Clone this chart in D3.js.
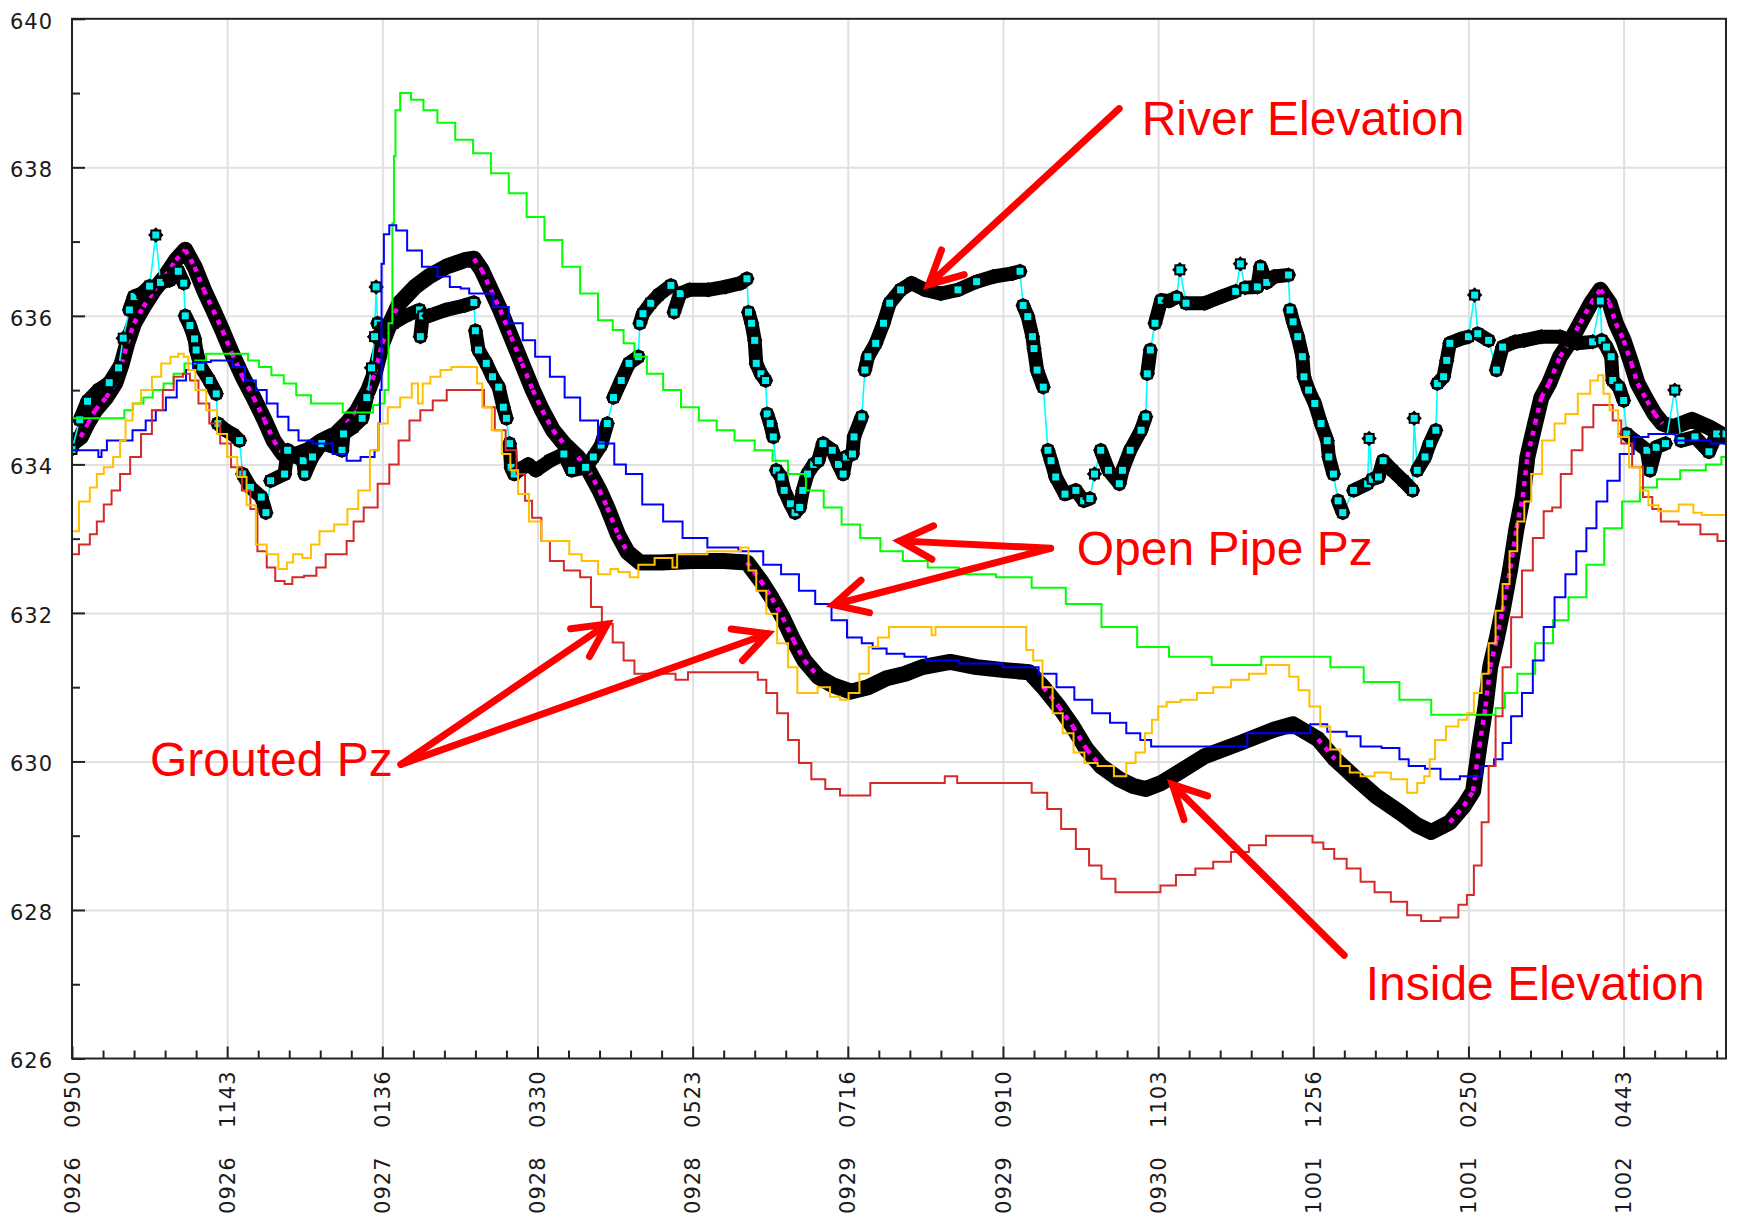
<!DOCTYPE html>
<html>
<head>
<meta charset="utf-8">
<script src="https://d3js.org/d3.v7.min.js"></script>
<style>
  body { margin: 0; background: #fff; }
  svg { display: block; }
  .tick text { font-family: "DejaVu Sans", sans-serif; font-size: 21px; letter-spacing: 1px; fill: #1a1a1a; }
  .xlab { font-family: "DejaVu Sans", sans-serif; font-size: 21px; letter-spacing: 1px; fill: #1a1a1a; }
  .note { font-family: "Liberation Sans", Arial, sans-serif; font-size: 48px; fill: #ff0000; }
</style>
</head>
<body>
<svg id="chart" width="1738" height="1219"></svg>
<script>
// time axis: t counts report intervals of 13 h 53 min, starting 0950 on 09/26
var timeLabels = ["0950", "1143", "0136", "0330", "0523", "0716", "0910", "1103", "1256", "0250", "0443"];
var dateLabels = ["0926", "0926", "0927", "0928", "0928", "0929", "0929", "0930", "1001", "1001", "1002"];
var yMajor = [626, 628, 630, 632, 634, 636, 638, 640];
var yMinor = [627, 629, 631, 633, 635, 637, 639];

// open pipe piezometers [t, elevation]
var openPipeGreen = [[0,634.62],[0.33,634.62],[0.345,634.73],[0.44,634.82],[0.48,634.9],[0.56,635.0],[0.62,635.09],[0.69,635.22],[0.76,635.36],[0.83,635.4],[0.9,635.49],[1.1,635.49],[1.17,635.4],[1.24,635.31],[1.33,635.2],[1.4,635.09],[1.49,634.93],[1.59,634.82],[1.74,634.82],[1.75,634.7],[1.93,634.7],[1.95,634.8],[2.01,634.82],[2.02,635.0],[2.06,635.9],[2.07,637.25],[2.08,638.15],[2.09,638.77],[2.14,639.0],[2.23,638.91],[2.3,638.77],[2.41,638.6],[2.53,638.37],[2.64,638.19],[2.76,637.92],[2.87,637.65],[2.99,637.33],[3.1,637.02],[3.22,636.66],[3.33,636.3],[3.45,635.94],[3.52,635.81],[3.59,635.63],[3.66,635.45],[3.75,635.22],[3.87,635.0],[3.98,634.77],[4.1,634.59],[4.21,634.46],[4.33,634.32],[4.47,634.19],[4.56,634.05],[4.67,633.87],[4.79,633.65],[4.9,633.42],[5.02,633.19],[5.14,633.01],[5.28,632.83],[5.43,632.7],[5.6,632.61],[5.83,632.52],[6.08,632.48],[6.29,632.34],[6.52,632.12],[6.75,631.81],[6.98,631.54],[7.16,631.41],[7.53,631.3],[7.8,631.41],[8.01,631.41],[8.21,631.27],[8.44,631.07],[8.67,630.83],[8.85,630.63],[9.15,630.63],[9.2,630.72],[9.27,630.92],[9.36,631.18],[9.5,631.59],[9.59,631.9],[9.7,632.21],[9.82,632.65],[9.93,633.14],[10.05,633.5],[10.16,633.69],[10.27,633.8],[10.46,633.92],[10.6,634.0],[10.66,634.1]];

var openPipeBlue = [[0,634.19],[0.16,634.19],[0.18,634.1],[0.2,634.19],[0.25,634.32],[0.34,634.32],[0.44,634.46],[0.51,634.59],[0.57,634.73],[0.64,634.9],[0.71,635.13],[0.76,635.27],[0.8,635.38],[0.99,635.4],[1.08,635.31],[1.15,635.13],[1.22,635.0],[1.29,634.82],[1.36,634.64],[1.43,634.46],[1.49,634.32],[1.61,634.28],[1.75,634.14],[1.79,634.05],[1.93,634.1],[1.97,634.19],[1.98,634.55],[1.99,635.0],[2.0,636.7],[2.02,637.1],[2.07,637.22],[2.11,637.15],[2.21,636.88],[2.3,636.66],[2.41,636.53],[2.46,636.39],[2.55,636.37],[2.57,636.3],[2.67,636.3],[2.76,636.12],[2.87,635.9],[2.94,635.67],[3.03,635.45],[3.13,635.18],[3.22,634.9],[3.33,634.59],[3.45,634.28],[3.54,634.0],[3.6,633.87],[3.75,633.46],[3.87,633.23],[4.0,633.01],[4.19,632.88],[4.4,632.83],[4.51,632.65],[4.63,632.52],[4.74,632.3],[4.84,632.12],[4.95,631.9],[5.04,631.67],[5.14,631.59],[5.18,631.52],[5.32,631.45],[5.41,631.41],[5.6,631.36],[5.83,631.32],[6.17,631.27],[6.29,631.18],[6.4,631.0],[6.52,630.83],[6.63,630.65],[6.75,630.52],[6.84,630.38],[6.93,630.29],[6.98,630.2],[7.2,630.2],[7.55,630.2],[7.6,630.38],[7.95,630.38],[8.01,630.5],[8.17,630.4],[8.26,630.34],[8.35,630.2],[8.53,630.18],[8.58,630.03],[8.65,629.94],[8.79,629.9],[8.85,629.76],[9.04,629.8],[9.13,629.94],[9.2,630.03],[9.24,630.25],[9.31,630.61],[9.38,630.92],[9.45,631.36],[9.52,631.81],[9.59,632.21],[9.66,632.52],[9.73,632.83],[9.79,633.14],[9.86,633.5],[9.93,633.78],[10.02,634.14],[10.11,634.37],[10.21,634.41],[10.46,634.32],[10.66,634.28]];

// grouted piezometers [t, elevation]
var groutedYellow = [[0,633.1],[0.09,633.5],[0.14,633.69],[0.18,633.87],[0.23,633.96],[0.3,634.1],[0.32,634.32],[0.37,634.59],[0.41,634.82],[0.48,635.0],[0.55,635.18],[0.6,635.36],[0.67,635.45],[0.7,635.49],[0.74,635.45],[0.76,635.27],[0.83,635.0],[0.9,634.73],[0.97,634.41],[1.03,634.1],[1.1,633.83],[1.15,633.45],[1.22,632.92],[1.29,632.79],[1.37,632.59],[1.4,632.68],[1.45,632.79],[1.52,632.74],[1.56,632.92],[1.63,633.1],[1.75,633.19],[1.8,633.4],[1.89,633.65],[1.95,634.19],[2.0,634.55],[2.07,634.77],[2.16,634.9],[2.22,635.09],[2.24,634.82],[2.28,635.09],[2.34,635.18],[2.41,635.27],[2.48,635.31],[2.6,635.31],[2.62,635.09],[2.67,634.77],[2.74,634.46],[2.8,634.14],[2.85,633.92],[2.9,633.6],[2.99,633.23],[3.06,632.97],[3.17,632.97],[3.24,632.79],[3.33,632.7],[3.45,632.52],[3.49,632.59],[3.55,632.55],[3.64,632.48],[3.66,632.65],[3.85,632.74],[3.89,632.61],[3.91,632.79],[4.28,632.83],[4.34,632.88],[4.38,632.57],[4.44,632.3],[4.51,631.99],[4.58,631.59],[4.65,631.27],[4.7,630.92],[4.77,630.92],[4.84,631.0],[4.93,630.87],[4.97,630.83],[5.04,630.92],[5.11,631.18],[5.16,631.54],[5.23,631.67],[5.3,631.81],[5.53,631.81],[5.55,631.7],[5.58,631.81],[6.13,631.81],[6.17,631.5],[6.22,631.36],[6.29,631.0],[6.35,630.65],[6.42,630.38],[6.49,630.12],[6.56,629.98],[6.66,629.94],[6.77,629.8],[6.82,629.98],[6.89,630.12],[6.94,630.38],[6.98,630.56],[7.02,630.74],[7.09,630.8],[7.2,630.83],[7.3,630.92],[7.41,631.0],[7.53,631.1],[7.64,631.18],[7.75,631.3],[7.82,631.3],[7.87,631.14],[7.94,630.96],[8.01,630.74],[8.08,630.47],[8.14,630.16],[8.21,629.94],[8.26,629.85],[8.35,629.8],[8.44,629.85],[8.56,629.76],[8.65,629.58],[8.69,629.71],[8.74,629.8],[8.76,630.03],[8.81,630.29],[8.9,630.47],[8.97,630.56],[9.01,630.65],[9.06,630.92],[9.11,631.18],[9.15,631.59],[9.2,632.03],[9.24,632.39],[9.29,632.83],[9.34,633.23],[9.38,633.5],[9.43,633.87],[9.52,634.32],[9.59,634.55],[9.66,634.68],[9.75,634.95],[9.82,635.13],[9.85,635.2],[9.89,634.95],[9.93,634.73],[10.0,634.37],[10.07,633.96],[10.14,633.65],[10.18,633.45],[10.27,633.37],[10.44,633.46],[10.46,633.35],[10.55,633.32],[10.66,633.32]];

var groutedRed = [[0,632.79],[0.09,632.92],[0.14,633.06],[0.18,633.23],[0.23,633.46],[0.28,633.65],[0.34,633.87],[0.41,634.1],[0.48,634.41],[0.55,634.73],[0.62,635.0],[0.69,635.18],[0.74,635.22],[0.78,635.13],[0.85,634.82],[0.92,634.55],[0.99,634.28],[1.06,633.96],[1.13,633.65],[1.17,633.4],[1.22,632.83],[1.29,632.61],[1.33,632.43],[1.41,632.39],[1.43,632.48],[1.56,632.5],[1.59,632.61],[1.68,632.79],[1.75,632.79],[1.79,632.97],[1.84,633.23],[1.92,633.42],[2.02,633.74],[2.07,634.0],[2.14,634.32],[2.21,634.59],[2.28,634.73],[2.37,634.86],[2.46,635.0],[2.62,635.0],[2.69,634.77],[2.76,634.46],[2.83,634.19],[2.9,633.87],[2.94,633.51],[2.99,633.28],[3.06,632.97],[3.1,632.7],[3.24,632.57],[3.31,632.48],[3.38,632.08],[3.45,631.85],[3.52,631.6],[3.59,631.36],[3.66,631.18],[3.82,631.18],[3.96,631.1],[3.98,631.2],[4.4,631.2],[4.44,631.1],[4.51,630.92],[4.58,630.65],[4.65,630.29],[4.72,629.98],[4.81,629.76],[4.9,629.63],[5.0,629.54],[5.11,629.54],[5.18,629.71],[5.62,629.71],[5.63,629.8],[5.69,629.8],[5.72,629.71],[6.13,629.71],[6.24,629.58],[6.33,629.36],[6.42,629.09],[6.52,628.82],[6.59,628.6],[6.68,628.42],[6.77,628.24],[6.98,628.24],[7.05,628.33],[7.18,628.47],[7.3,628.56],[7.41,628.65],[7.53,628.78],[7.64,628.87],[7.75,629.0],[7.96,629.0],[8.03,628.91],[8.1,628.82],[8.17,628.69],[8.26,628.56],[8.35,628.38],[8.44,628.24],[8.56,628.11],[8.65,627.93],[8.74,627.85],[8.9,627.9],[8.97,628.07],[9.01,628.2],[9.06,628.6],[9.11,629.18],[9.15,629.94],[9.2,630.61],[9.24,631.27],[9.31,631.94],[9.38,632.57],[9.45,633.01],[9.52,633.37],[9.56,633.42],[9.63,633.87],[9.7,634.19],[9.77,634.5],[9.84,634.8],[9.91,634.8],[9.95,634.59],[10.02,634.28],[10.09,633.96],[10.16,633.56],[10.21,633.4],[10.27,633.23],[10.44,633.19],[10.55,633.06],[10.66,632.97]];

// inside elevation [t, elevation]
var insideElev = [[0,634.28],[0.057,634.37],[0.1,634.55],[0.15,634.73],[0.22,634.9],[0.28,635.1],[0.32,635.35],[0.356,635.63],[0.4,635.9],[0.46,636.12],[0.53,636.35],[0.6,636.53],[0.67,636.75],[0.73,636.89],[0.79,636.66],[0.85,636.35],[0.91,636.08],[0.97,635.8],[1.03,635.5],[1.1,635.18],[1.17,634.9],[1.24,634.6],[1.3,634.32],[1.36,634.14],[1.43,634.12],[1.52,634.19],[1.61,634.32],[1.7,634.41],[1.77,634.55],[1.84,634.73],[1.91,635.0],[1.95,635.22],[2.0,635.63],[2.05,635.9],[2.11,636.17],[2.21,636.39],[2.3,636.53],[2.41,636.66],[2.53,636.75],[2.59,636.77],[2.64,636.62],[2.7,636.35],[2.76,636.08],[2.83,635.72],[2.9,635.36],[2.97,635.0],[3.03,634.73],[3.1,634.46],[3.17,634.28],[3.26,634.1],[3.33,633.92],[3.4,633.65],[3.45,633.42],[3.52,633.05],[3.58,632.82],[3.66,632.68],[3.8,632.68],[4.0,632.7],[4.2,632.7],[4.35,632.68],[4.44,632.43],[4.51,632.2],[4.58,631.94],[4.65,631.63],[4.72,631.36],[4.81,631.14],[4.9,631.03],[5.02,630.94],[5.13,631.0],[5.25,631.12],[5.37,631.18],[5.48,631.27],[5.66,631.34],[5.83,631.27],[6.01,631.23],[6.17,631.2],[6.26,631.0],[6.36,630.74],[6.45,630.47],[6.54,630.16],[6.63,629.94],[6.75,629.76],[6.84,629.67],[6.92,629.63],[7.02,629.71],[7.13,629.85],[7.3,630.07],[7.53,630.25],[7.75,630.43],[7.87,630.5],[8.03,630.3],[8.14,630.03],[8.26,629.8],[8.4,629.54],[8.56,629.31],[8.67,629.14],[8.76,629.05],[8.88,629.18],[8.97,629.4],[9.03,629.6],[9.07,630.2],[9.11,630.74],[9.14,631.27],[9.18,631.63],[9.22,632.03],[9.27,632.6],[9.31,633.14],[9.35,633.56],[9.38,634.1],[9.43,634.55],[9.47,634.9],[9.52,635.09],[9.59,635.45],[9.66,635.67],[9.72,635.9],[9.79,636.17],[9.85,636.35],[9.91,636.17],[9.95,635.9],[10.0,635.67],[10.05,635.36],[10.09,635.09],[10.15,634.86],[10.2,634.68],[10.25,634.55],[10.32,634.5],[10.44,634.6],[10.55,634.5],[10.66,634.37]];

// river elevation [t, elevation]
var riverElev = [[0,634.2],[0.05,634.6],[0.1,634.85],[0.17,635.0],[0.24,635.1],[0.3,635.3],[0.33,635.7],[0.37,636.08],[0.4,636.26],[0.45,636.3],[0.5,636.4],[0.54,637.09],[0.57,636.45],[0.63,636.48],[0.685,636.6],[0.72,636.44],[0.73,636.0],[0.76,635.87],[0.79,635.69],[0.8,635.54],[0.83,635.31],[0.885,635.13],[0.93,634.95],[0.94,634.55],[0.99,634.46],[1.04,634.4],[1.08,634.32],[1.1,633.87],[1.15,633.69],[1.22,633.56],[1.25,633.35],[1.28,633.78],[1.37,633.87],[1.39,634.19],[1.45,634.1],[1.49,634.05],[1.5,633.87],[1.55,634.1],[1.61,634.28],[1.67,634.25],[1.74,634.19],[1.75,634.41],[1.81,634.5],[1.87,634.62],[1.9,634.9],[1.93,635.3],[1.95,635.72],[1.96,636.39],[1.97,635.9],[2.0,635.85],[2.07,635.9],[2.15,636.0],[2.24,636.08],[2.245,635.72],[2.26,636.0],[2.3,636.0],[2.41,636.08],[2.53,636.14],[2.59,636.18],[2.6,635.8],[2.62,635.54],[2.67,635.36],[2.71,635.18],[2.75,635.04],[2.78,634.77],[2.8,634.62],[2.82,634.28],[2.83,633.96],[2.85,633.87],[2.9,633.95],[2.94,634.0],[2.99,633.92],[3.08,634.05],[3.17,634.14],[3.22,633.92],[3.31,633.96],[3.36,634.1],[3.41,634.26],[3.45,634.55],[3.49,634.9],[3.54,635.13],[3.59,635.36],[3.65,635.45],[3.66,635.9],[3.68,636.03],[3.73,636.17],[3.78,636.28],[3.86,636.41],[3.88,636.05],[3.92,636.3],[3.98,636.35],[4.1,636.35],[4.21,636.39],[4.31,636.44],[4.35,636.5],[4.36,636.05],[4.38,635.9],[4.4,635.67],[4.41,635.36],[4.44,635.22],[4.47,635.13],[4.48,634.68],[4.5,634.55],[4.52,634.37],[4.54,633.92],[4.57,633.83],[4.59,633.65],[4.63,633.47],[4.66,633.35],[4.69,633.42],[4.71,633.65],[4.74,633.87],[4.78,634.0],[4.81,634.05],[4.84,634.28],[4.9,634.19],[4.94,634.0],[4.97,633.87],[4.99,634.1],[5.03,634.14],[5.04,634.37],[5.09,634.64],[5.11,635.27],[5.13,635.45],[5.18,635.63],[5.23,635.9],[5.27,636.17],[5.34,636.35],[5.41,636.44],[5.5,636.35],[5.6,636.3],[5.71,636.35],[5.83,636.46],[5.94,636.53],[6.06,636.57],[6.11,636.6],[6.13,636.14],[6.16,635.99],[6.19,635.72],[6.2,635.56],[6.22,635.27],[6.26,635.04],[6.29,634.19],[6.31,634.05],[6.34,633.83],[6.4,633.6],[6.47,633.65],[6.52,633.51],[6.56,633.54],[6.59,633.87],[6.63,634.19],[6.68,633.92],[6.75,633.74],[6.77,633.92],[6.82,634.19],[6.89,634.46],[6.92,634.64],[6.93,635.22],[6.95,635.54],[6.98,635.9],[7.02,636.21],[7.07,636.2],[7.12,636.25],[7.14,636.62],[7.18,636.17],[7.3,636.17],[7.41,636.26],[7.5,636.33],[7.53,636.7],[7.56,636.38],[7.64,636.39],[7.66,636.66],[7.7,636.45],[7.75,636.53],[7.84,636.55],[7.85,636.08],[7.87,635.92],[7.9,635.72],[7.93,635.45],[7.94,635.18],[7.97,635.0],[8.01,634.82],[8.05,634.55],[8.09,634.32],[8.1,634.1],[8.13,633.87],[8.16,633.51],[8.19,633.35],[8.26,633.65],[8.35,633.74],[8.36,634.35],[8.38,633.8],[8.42,633.83],[8.45,634.05],[8.51,633.92],[8.58,633.78],[8.64,633.65],[8.65,634.62],[8.67,633.92],[8.72,634.1],[8.75,634.28],[8.79,634.46],[8.8,635.09],[8.84,635.18],[8.86,635.4],[8.88,635.63],[8.95,635.69],[9.0,635.72],[9.04,636.28],[9.06,635.76],[9.13,635.67],[9.18,635.27],[9.22,635.58],[9.3,635.65],[9.36,635.67],[9.47,635.72],[9.59,635.72],[9.7,635.63],[9.8,635.65],[9.85,636.2],[9.86,635.67],[9.89,635.58],[9.92,635.45],[9.93,635.13],[9.97,635.04],[10.0,634.86],[10.02,634.41],[10.07,634.32],[10.15,634.19],[10.17,633.92],[10.21,634.23],[10.27,634.28],[10.33,635.0],[10.37,634.32],[10.46,634.37],[10.55,634.17],[10.6,634.41],[10.66,634.41]];

// red callouts: text anchor, arrow origin and arrow tips, all in data units
var callouts = [
  {label: "River Elevation", at: [6.894, 638.44], from: [6.749, 638.79], to: [[5.521, 636.42]]},
  {label: "Open Pipe Pz", at: [6.475, 632.65], from: [6.307, 632.87], to: [[5.335, 632.97], [4.907, 632.11]]},
  {label: "Grouted Pz", at: [0.503, 629.81], from: [2.12, 629.96], to: [[3.45, 631.85], [4.485, 631.72]]},
  {label: "Inside Elevation", at: [8.338, 626.79], from: [8.199, 627.39], to: [[7.092, 629.69]]}
];

var svg = d3.select("#chart");
var box = {left: 72, right: 1726, top: 18.8, bottom: 1058.5};

var x = d3.scaleLinear().domain([0, 10.66]).range([box.left, box.right]);
var y = d3.scaleLinear().domain([626, 640]).range([box.bottom, box.top]);

// grid lines
svg.append("g")
    .attr("transform", "translate(0," + box.bottom + ")")
    .call(d3.axisBottom(x).tickValues(d3.range(1, 11)).tickSize(-(box.bottom - box.top)).tickFormat(""))
    .call(function(g) { g.select(".domain").remove(); })
    .selectAll("line").attr("stroke", "#e0e0e0").attr("stroke-width", 2);
svg.append("g")
    .attr("transform", "translate(" + box.left + ",0)")
    .call(d3.axisLeft(y).tickValues(yMajor.slice(1, -1)).tickSize(-(box.right - box.left)).tickFormat(""))
    .call(function(g) { g.select(".domain").remove(); })
    .selectAll("line").attr("stroke", "#e0e0e0").attr("stroke-width", 2);

svg.append("clipPath").attr("id", "plotclip")
    .append("rect")
    .attr("x", box.left).attr("y", box.top)
    .attr("width", box.right - box.left).attr("height", box.bottom - box.top);

var plot = svg.append("g").attr("clip-path", "url(#plotclip)");

var line = d3.line().x(function(d) { return x(d[0]); }).y(function(d) { return y(d[1]); });
var stepLine = d3.line().curve(d3.curveStep).x(function(d) { return x(d[0]); }).y(function(d) { return y(d[1]); });

var bigSquare = d3.symbol().type(d3.symbolSquare).size(120)();
var smallSquare = d3.symbol().type(d3.symbolSquare).size(49)();

function dist(a, b) {
    return Math.hypot(x(b[0]) - x(a[0]), y(b[1]) - y(a[1]));
}
function isSteep(p) {
    return Math.abs(y(p[1][1]) - y(p[0][1])) > 1.1 * Math.abs(x(p[1][0]) - x(p[0][0]));
}
// a marker centre stays hidden when it sits inside a dense, shallow run of samples
function buried(data, i) {
    var prev = data[i - 1], next = data[i + 1], d = data[i];
    if (!prev || !next) return false;
    return dist(prev, d) < 20 && dist(d, next) < 20 && !isSteep([prev, d]) && !isSteep([d, next]);
}

function starMarkers(g, data, fill) {
    var m = g.append("g").selectAll("g")
        .data(data)
        .enter().append("g")
        .attr("transform", function(d) { return "translate(" + x(d[0]) + "," + y(d[1]) + ")"; });
    m.append("path").attr("d", bigSquare).attr("fill", "#000");
    m.append("path").attr("d", bigSquare).attr("transform", "rotate(45)").attr("fill", "#000");
    if (fill) {
        m.filter(function(d, i) { return !buried(data, i); })
            .append("path").attr("d", smallSquare).attr("fill", fill);
    }
}

// inside elevation: dense black markers, magenta centres show where it moves fast
plot.append("path")
    .datum(insideElev)
    .attr("d", line)
    .attr("fill", "none")
    .attr("stroke", "#000")
    .attr("stroke-width", 16)
    .attr("stroke-linejoin", "round")
    .attr("stroke-linecap", "round");
starMarkers(plot, insideElev, null);
plot.append("g").selectAll("path")
    .data(d3.pairs(insideElev).filter(isSteep))
    .enter().append("path")
    .attr("d", line)
    .attr("fill", "none")
    .attr("stroke", "#ff00ff")
    .attr("stroke-width", 4.5)
    .attr("stroke-dasharray", "5 6");

// river elevation
plot.append("path")
    .datum(riverElev)
    .attr("d", line)
    .attr("fill", "none")
    .attr("stroke", "#00ffff")
    .attr("stroke-width", 1.6);
plot.append("g").selectAll("path")
    .data(d3.pairs(riverElev).filter(function(p) { return dist(p[0], p[1]) < 24; }))
    .enter().append("path")
    .attr("d", line)
    .attr("fill", "none")
    .attr("stroke", "#000")
    .attr("stroke-width", 14)
    .attr("stroke-linecap", "round");
starMarkers(plot, riverElev, "#00eeee");

// piezometer lines, logged in small steps
var pz = [
    {data: openPipeGreen, color: "#00ff00"},
    {data: openPipeBlue, color: "#0000ff"},
    {data: groutedRed, color: "#d42a2a"},
    {data: groutedYellow, color: "#ffc000"}
];
pz.forEach(function(s) {
    plot.append("path")
        .datum(s.data)
        .attr("d", stepLine)
        .attr("fill", "none")
        .attr("stroke", s.color)
        .attr("stroke-width", 2);
});

// axes
function styleAxis(g) {
    g.select(".domain").remove();
    g.selectAll(".tick line").attr("stroke", "#222").attr("stroke-width", 2);
}
svg.append("g")
    .attr("transform", "translate(" + box.left + ",0)")
    .call(d3.axisLeft(y).tickValues(yMajor).tickSize(-13).tickPadding(19).tickFormat(d3.format("d")))
    .call(styleAxis)
    .selectAll("text").attr("dy", "0.45em");
svg.append("g")
    .attr("transform", "translate(" + box.left + ",0)")
    .call(d3.axisLeft(y).tickValues(yMinor).tickSize(-8).tickFormat(""))
    .call(styleAxis);
svg.append("g")
    .attr("transform", "translate(0," + box.bottom + ")")
    .call(d3.axisBottom(x).tickValues(d3.range(0, 11)).tickSize(-12).tickFormat(""))
    .call(styleAxis);
svg.append("g")
    .attr("transform", "translate(0," + box.bottom + ")")
    .call(d3.axisBottom(x).tickValues(d3.range(1, 54).filter(function(i) { return i % 5; }).map(function(i) { return i / 5; })).tickSize(-8).tickFormat(""))
    .call(styleAxis);

svg.append("rect")
    .attr("x", box.left).attr("y", box.top)
    .attr("width", box.right - box.left).attr("height", box.bottom - box.top)
    .attr("fill", "none")
    .attr("stroke", "#222")
    .attr("stroke-width", 2);

// rotated two-line x labels
var xl = svg.append("g");
xl.selectAll("text.time")
    .data(timeLabels)
    .enter().append("text")
    .attr("class", "xlab time")
    .attr("transform", function(d, i) { return "translate(" + x(i) + "," + (box.bottom + 12) + ") rotate(-90)"; })
    .attr("text-anchor", "end")
    .attr("dy", "0.36em")
    .text(function(d) { return d; });
xl.selectAll("text.date")
    .data(dateLabels)
    .enter().append("text")
    .attr("class", "xlab date")
    .attr("transform", function(d, i) { return "translate(" + x(i) + "," + (box.bottom + 98) + ") rotate(-90)"; })
    .attr("text-anchor", "end")
    .attr("dy", "0.36em")
    .text(function(d) { return d; });

// callouts
function arrowPath(a, b) {
    var x0 = x(a[0]), y0 = y(a[1]), x1 = x(b[0]), y1 = y(b[1]);
    var ang = Math.atan2(y1 - y0, x1 - x0), L = 37, s = 0.47;
    var p = d3.path();
    p.moveTo(x0, y0);
    p.lineTo(x1, y1);
    p.moveTo(x1 - L * Math.cos(ang - s), y1 - L * Math.sin(ang - s));
    p.lineTo(x1, y1);
    p.lineTo(x1 - L * Math.cos(ang + s), y1 - L * Math.sin(ang + s));
    return p.toString();
}
var notes = svg.append("g");
callouts.forEach(function(c) {
    c.to.forEach(function(t) {
        notes.append("path")
            .attr("d", arrowPath(c.from, t))
            .attr("fill", "none")
            .attr("stroke", "#ff0000")
            .attr("stroke-width", 7)
            .attr("stroke-linecap", "round")
            .attr("stroke-linejoin", "miter");
    });
    notes.append("text")
        .attr("class", "note")
        .attr("x", x(c.at[0]))
        .attr("y", y(c.at[1]))
        .text(c.label);
});
</script>
</body>
</html>
